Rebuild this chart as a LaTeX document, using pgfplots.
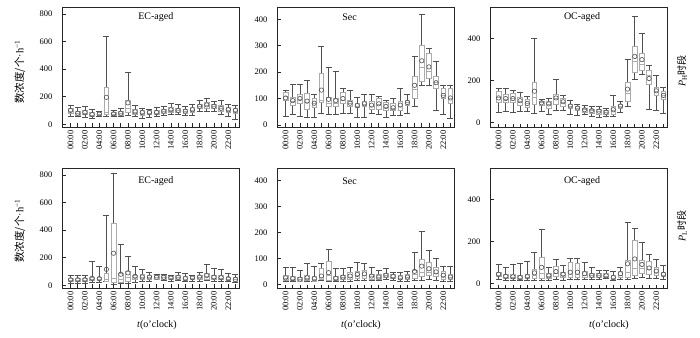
\documentclass[border=0pt]{standalone}
\usepackage{pgfplots}
\pgfplotsset{compat=1.18}
\usepgfplotslibrary{statistics}
\usepackage{fontspec}
\setmainfont{Liberation Serif}
\newfontfamily\cjk{Noto Sans CJK SC}
\definecolor{boxc}{HTML}{ABABAB}
\definecolor{whc}{HTML}{505050}
\newcommand{\bx}[6]{\addplot[boxplot prepared={draw position=#1, lower whisker=#2, lower quartile=#3, median=#4, upper quartile=#5, upper whisker=#6}] coordinates {};}
\tikzset{ttl/.style={font=\fontsize{10}{12}\selectfont}}
\pgfplotsset{
  boxplot/draw direction=y,
  boxplot/every box/.style={draw=boxc, line width=0.6pt},
  boxplot/every whisker/.style={draw=whc, line width=0.6pt},
  boxplot/every median/.style={draw=boxc, line width=0.6pt},
  boxplot/box extend=0.65,
  boxplot/whisker extend=0.85,
  panel/.style={
    scale only axis, width=177pt, height=120pt,
    anchor=north west,
    xmin=-1.2, xmax=23.5,
    xtick={0,...,23},
    xticklabels={00:00,,02:00,,04:00,,06:00,,08:00,,10:00,,12:00,,14:00,,16:00,,18:00,,20:00,,22:00,},
    x tick label style={rotate=90, anchor=east},
    y tick label style={xshift=-6pt},
    tick label style={font=\fontsize{8.5}{9}\selectfont},
    /pgf/number format/assume math mode=true,
    tick align=inside, xtick pos=bottom, ytick pos=left,
    major tick length=3.5pt,
    axis line style={draw=black!85, line width=0.7pt},
    tick style={draw=black!85, line width=0.6pt},
    clip=true,
  },
  meanst/.style={only marks, mark=o, mark size=2.2pt, draw=whc, mark options={line width=0.6pt, draw=whc}},
  pA/.style={ymin=-20, ymax=850, ytick={0,200,...,800}},
  pB/.style={ymin=-8, ymax=447, ytick={0,100,...,400}},
  pC/.style={ymin=-20, ymax=550, ytick={0,200,400}},
}
\begin{document}
\begin{tikzpicture}
\path[use as bounding box] (0,0) rectangle (700pt,-337pt);
% ---------- P1 EC-aged PH
\begin{axis}[panel, pA, at={(62pt,-7pt)}]
\bx{0}{60}{80}{95}{115}{140}
\bx{1}{55}{65}{78}{95}{120}
\bx{2}{50}{70}{82}{100}{128}
\bx{3}{40}{58}{68}{85}{110}
\bx{4}{55}{62}{72}{88}{95}
\bx{5}{55}{70}{90}{270}{640}
\bx{6}{55}{62}{72}{85}{100}
\bx{7}{55}{65}{78}{95}{115}
\bx{8}{65}{90}{115}{170}{380}
\bx{9}{60}{75}{88}{105}{140}
\bx{10}{45}{68}{82}{100}{115}
\bx{11}{50}{70}{82}{100}{110}
\bx{12}{55}{70}{82}{100}{125}
\bx{13}{65}{78}{92}{110}{130}
\bx{14}{70}{88}{102}{120}{155}
\bx{15}{70}{85}{98}{115}{145}
\bx{16}{65}{80}{92}{110}{130}
\bx{17}{65}{88}{102}{120}{145}
\bx{18}{95}{112}{128}{145}{175}
\bx{19}{95}{118}{135}{160}{185}
\bx{20}{95}{115}{128}{145}{165}
\bx{21}{70}{95}{112}{135}{175}
\bx{22}{60}{88}{102}{120}{145}
\bx{23}{35}{80}{97}{115}{135}
\addplot[meanst] coordinates {(0,100)(1,80)(2,85)(3,70)(4,75)(5,195)(6,75)(7,80)(8,155)(9,90)(10,85)(11,85)(12,85)(13,95)(14,105)(15,100)(16,95)(17,105)(18,130)(19,140)(20,130)(21,115)(22,105)(23,100)};
\node[ttl] at (rel axis cs:0.53,0.915) {EC-aged};
\end{axis}
% ---------- P2 Sec PH
\begin{axis}[panel, pB, at={(277pt,-7pt)}]
\bx{0}{33}{95}{110}{125}{130}
\bx{1}{40}{75}{90}{105}{153}
\bx{2}{32}{80}{98}{115}{153}
\bx{3}{30}{60}{85}{120}{168}
\bx{4}{30}{65}{80}{100}{115}
\bx{5}{45}{85}{95}{195}{297}
\bx{6}{40}{70}{82}{105}{218}
\bx{7}{40}{70}{80}{100}{205}
\bx{8}{45}{80}{95}{125}{140}
\bx{9}{45}{70}{80}{95}{130}
\bx{10}{28}{65}{72}{80}{105}
\bx{11}{30}{70}{78}{88}{115}
\bx{12}{45}{60}{72}{90}{115}
\bx{13}{40}{60}{78}{100}{110}
\bx{14}{28}{55}{68}{85}{95}
\bx{15}{35}{55}{63}{80}{100}
\bx{16}{35}{55}{72}{90}{140}
\bx{17}{45}{75}{85}{95}{115}
\bx{18}{70}{100}{135}{185}{260}
\bx{19}{150}{165}{220}{300}{420}
\bx{20}{150}{175}{205}{270}{292}
\bx{21}{55}{140}{160}{185}{240}
\bx{22}{40}{100}{112}{140}{152}
\bx{23}{25}{80}{100}{140}{150}
\addplot[meanst] coordinates {(0,102)(1,92)(2,100)(3,90)(4,82)(5,132)(6,97)(7,92)(8,100)(9,82)(10,73)(11,80)(12,75)(13,80)(14,70)(15,65)(16,75)(17,85)(18,150)(19,243)(20,220)(21,160)(22,112)(23,102)};
\node[ttl] at (rel axis cs:0.41,0.915) {Sec};
\end{axis}
% ---------- P3 OC-aged PH
\begin{axis}[panel, pC, at={(490pt,-7pt)}]
\bx{0}{50}{95}{120}{150}{165}
\bx{1}{55}{95}{112}{135}{165}
\bx{2}{50}{95}{115}{140}{155}
\bx{3}{55}{85}{102}{120}{145}
\bx{4}{55}{75}{92}{110}{125}
\bx{5}{45}{90}{120}{190}{400}
\bx{6}{55}{85}{95}{100}{110}
\bx{7}{40}{70}{88}{100}{115}
\bx{8}{60}{90}{115}{135}{205}
\bx{9}{60}{80}{98}{115}{130}
\bx{10}{40}{70}{80}{90}{105}
\bx{11}{35}{60}{70}{80}{90}
\bx{12}{40}{50}{62}{70}{85}
\bx{13}{30}{45}{57}{65}{80}
\bx{14}{25}{40}{55}{65}{80}
\bx{15}{30}{40}{50}{60}{70}
\bx{16}{30}{40}{58}{80}{130}
\bx{17}{50}{70}{80}{90}{100}
\bx{18}{80}{100}{140}{190}{300}
\bx{19}{205}{240}{290}{365}{505}
\bx{20}{230}{250}{280}{330}{425}
\bx{21}{65}{185}{225}{250}{275}
\bx{22}{60}{130}{150}{170}{225}
\bx{23}{45}{110}{130}{150}{170}
\addplot[meanst] coordinates {(0,118)(1,115)(2,115)(3,105)(4,92)(5,150)(6,95)(7,90)(8,118)(9,100)(10,80)(11,70)(12,62)(13,58)(14,55)(15,50)(16,62)(17,80)(18,160)(19,315)(20,300)(21,210)(22,152)(23,130)};
\node[ttl] at (rel axis cs:0.52,0.915) {OC-aged};
\end{axis}
% ---------- P4 EC-aged PL
\begin{axis}[panel, pA, at={(62pt,-168pt)}]
\bx{0}{15}{30}{38}{50}{75}
\bx{1}{15}{30}{38}{50}{70}
\bx{2}{15}{30}{38}{50}{75}
\bx{3}{20}{35}{45}{60}{170}
\bx{4}{20}{35}{45}{55}{135}
\bx{5}{25}{25}{40}{85}{510}
\bx{6}{10}{20}{50}{450}{810}
\bx{7}{15}{20}{45}{90}{300}
\bx{8}{15}{30}{60}{100}{210}
\bx{9}{20}{40}{55}{70}{140}
\bx{10}{25}{40}{55}{80}{115}
\bx{11}{30}{40}{55}{75}{95}
\bx{12}{40}{45}{55}{70}{80}
\bx{13}{35}{45}{55}{70}{80}
\bx{14}{30}{45}{52}{65}{75}
\bx{15}{35}{45}{55}{70}{95}
\bx{16}{25}{35}{45}{65}{85}
\bx{17}{30}{40}{52}{65}{75}
\bx{18}{30}{45}{55}{70}{95}
\bx{19}{35}{45}{62}{85}{150}
\bx{20}{25}{40}{52}{75}{125}
\bx{21}{25}{40}{50}{70}{115}
\bx{22}{25}{35}{45}{60}{90}
\bx{23}{20}{30}{40}{55}{80}
\addplot[meanst] coordinates {(0,40)(1,40)(2,40)(3,50)(4,48)(5,115)(6,232)(7,80)(8,90)(9,65)(10,60)(11,60)(12,58)(13,58)(14,55)(15,58)(16,48)(17,55)(18,60)(19,70)(20,58)(21,55)(22,48)(23,42)};
\node[ttl] at (rel axis cs:0.53,0.89) {EC-aged};
\end{axis}
% ---------- P5 Sec PL
\begin{axis}[panel, pB, ymin=-14, at={(277pt,-168pt)}]
\bx{0}{10}{15}{22}{35}{65}
\bx{1}{10}{15}{20}{30}{65}
\bx{2}{10}{12}{18}{28}{55}
\bx{3}{10}{15}{22}{35}{80}
\bx{4}{10}{12}{20}{30}{70}
\bx{5}{15}{20}{28}{60}{80}
\bx{6}{10}{15}{35}{90}{133}
\bx{7}{10}{15}{20}{30}{62}
\bx{8}{10}{20}{26}{35}{60}
\bx{9}{10}{20}{28}{45}{65}
\bx{10}{15}{25}{35}{50}{85}
\bx{11}{15}{25}{35}{55}{80}
\bx{12}{15}{20}{30}{40}{65}
\bx{13}{15}{20}{27}{38}{55}
\bx{14}{20}{28}{33}{42}{62}
\bx{15}{15}{22}{28}{38}{45}
\bx{16}{10}{18}{24}{35}{48}
\bx{17}{10}{18}{26}{38}{52}
\bx{18}{15}{25}{40}{55}{125}
\bx{19}{15}{30}{45}{97}{205}
\bx{20}{20}{35}{48}{85}{130}
\bx{21}{15}{30}{42}{65}{100}
\bx{22}{10}{20}{30}{50}{70}
\bx{23}{10}{20}{26}{38}{68}
\addplot[meanst] coordinates {(0,25)(1,22)(2,20)(3,25)(4,22)(5,32)(6,45)(7,23)(8,28)(9,32)(10,38)(11,40)(12,32)(13,28)(14,35)(15,30)(16,25)(17,28)(18,50)(19,70)(20,60)(21,48)(22,35)(23,28)};
\node[ttl] at (rel axis cs:0.41,0.89) {Sec};
\end{axis}
% ---------- P6 OC-aged PL
\begin{axis}[panel, pC, at={(490pt,-168pt)}]
\bx{0}{20}{35}{42}{55}{92}
\bx{1}{15}{25}{32}{45}{80}
\bx{2}{15}{25}{30}{45}{92}
\bx{3}{15}{22}{28}{40}{95}
\bx{4}{15}{25}{32}{45}{105}
\bx{5}{15}{25}{40}{70}{150}
\bx{6}{15}{25}{50}{125}{258}
\bx{7}{15}{25}{35}{50}{80}
\bx{8}{20}{35}{50}{85}{118}
\bx{9}{15}{30}{40}{55}{90}
\bx{10}{20}{30}{45}{100}{122}
\bx{11}{20}{30}{45}{95}{120}
\bx{12}{20}{30}{42}{60}{100}
\bx{13}{20}{30}{38}{50}{78}
\bx{14}{20}{30}{38}{50}{65}
\bx{15}{25}{30}{36}{50}{65}
\bx{16}{15}{20}{28}{40}{58}
\bx{17}{20}{30}{42}{60}{80}
\bx{18}{20}{30}{55}{110}{290}
\bx{19}{25}{40}{75}{205}{265}
\bx{20}{30}{50}{75}{110}{195}
\bx{21}{25}{45}{70}{105}{140}
\bx{22}{25}{40}{55}{80}{115}
\bx{23}{20}{35}{42}{55}{90}
\addplot[meanst] coordinates {(0,45)(1,35)(2,33)(3,30)(4,35)(5,52)(6,78)(7,38)(8,58)(9,45)(10,55)(11,55)(12,48)(13,40)(14,40)(15,38)(16,30)(17,48)(18,95)(19,118)(20,92)(21,75)(22,60)(23,45)};
\node[ttl] at (rel axis cs:0.52,0.89) {OC-aged};
\end{axis}
% ---------- labels
\node[rotate=90, font=\fontsize{10.5}{12}\selectfont] at (20pt,-72pt) {{\cjk 数浓度/个}·h\textsuperscript{−1}};
\node[rotate=90, font=\fontsize{10.5}{12}\selectfont] at (20pt,-231pt) {{\cjk 数浓度/个}·h\textsuperscript{−1}};
\node[rotate=90, font=\fontsize{10}{12}\selectfont] at (682pt,-71pt) {\textit{P}\textsubscript{H}{\cjk 时段}};
\node[rotate=90, font=\fontsize{10}{12}\selectfont] at (682pt,-226pt) {\textit{P}\textsubscript{L}{\cjk 时段}};
\node[font=\fontsize{10}{12}\selectfont] at (157pt,-325pt) {\textit{t}(o’clock)};
\node[font=\fontsize{10}{12}\selectfont] at (361pt,-325pt) {\textit{t}(o’clock)};
\node[font=\fontsize{10}{12}\selectfont] at (609pt,-325pt) {\textit{t}(o’clock)};
\end{tikzpicture}
\end{document}
